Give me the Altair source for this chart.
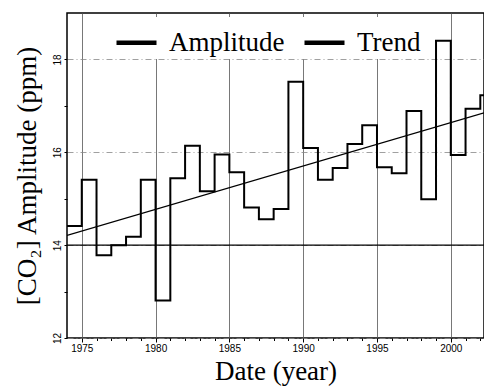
import altair as alt
import pandas as pd

years = list(range(1974, 2003))
amplitude = [14.41, 15.41, 13.78, 14.00, 14.18, 15.41, 12.81, 15.44, 16.14, 15.16,
             15.95, 15.57, 14.81, 14.56, 14.78, 17.52, 16.09, 15.41, 15.66, 16.18,
             16.58, 15.68, 15.55, 16.89, 14.99, 18.40, 15.94, 16.94, 17.23]
trend_years = [1974, 2002.25]
trend_values = [14.21, 16.85]
ref_level = [14]
x_ticks = list(range(1975, 2003))
y_ticks = [12, 13, 14, 15, 16, 17, 18]

amp_df = pd.DataFrame({"year": years + [years[-1] + 1],
                       "value": amplitude + [amplitude[-1]],
                       "series": "Amplitude"})
trend_df = pd.DataFrame({"year": trend_years, "value": trend_values, "series": "Trend"})
ref_df = pd.DataFrame({"value": ref_level})

xscale = alt.Scale(domain=[1974, 2002.25], nice=False, zero=False)
yscale = alt.Scale(domain=[12, 19], nice=False, zero=False)

color = alt.Color("series:N",
                  scale=alt.Scale(domain=["Amplitude", "Trend"], range=["black", "black"]),
                  legend=alt.Legend(title=None, orient="none", legendX=44, legendY=4,
                                    direction="horizontal", symbolType="stroke",
                                    symbolSize=1600, symbolStrokeWidth=4.5,
                                    labelFont="Liberation Serif", labelFontSize=27,
                                    labelColor="black", labelOffset=10, columnPadding=10,
                                    fillColor="white", padding=3))

xmajor = "datum.value % 5 === 0"
ymajor = "datum.value % 2 === 0"

xaxis = alt.Axis(values=x_ticks, tickCount=60, format="d", title="Date (year)", grid=True,
                 labelExpr=f"{xmajor} ? datum.label : ''", labelOverlap=False,
                 labelFlush=False,
                 gridOpacity={"condition": {"test": xmajor, "value": 1}, "value": 0},
                 gridColor="#555", gridWidth=0.8, domain=False,
                 tickSize={"condition": {"test": xmajor, "value": 4}, "value": 2.5},
                 tickColor="black", labelFont="Liberation Sans", labelFontSize=10,
                 labelColor="black", titleFont="Liberation Serif", titleFontSize=27,
                 titleFontWeight="normal", titleColor="black", titlePadding=5,
                 labelPadding=1)
yaxis = alt.Axis(values=y_ticks, tickCount=20, format="d", title="[CO₂] Amplitude (ppm)",
                 grid=True,
                 labelExpr=f"{ymajor} ? datum.label : ''", labelOverlap=False,
                 labelFlush=False,
                 gridOpacity={"condition": {"test": ymajor, "value": 1}, "value": 0},
                 gridColor="#888", gridWidth=0.8, gridDash=[6, 3, 1, 3], domain=False,
                 tickSize=3, tickColor="black", labelAngle=270, labelAlign="center",
                 labelBaseline="bottom", labelFont="Liberation Sans", labelFontSize=10,
                 labelColor="black", titleFont="Liberation Serif", titleFontSize=27,
                 titleFontWeight="normal", titleColor="black", titlePadding=11,
                 labelPadding=2)

amp = alt.Chart(amp_df).mark_line(interpolate="step-after", strokeWidth=2, clip=True).encode(
    x=alt.X("year:Q", scale=xscale, axis=xaxis),
    y=alt.Y("value:Q", scale=yscale, axis=yaxis),
    color=color,
)
trend = alt.Chart(trend_df).mark_line(strokeWidth=1.3, clip=True).encode(
    x=alt.X("year:Q", scale=xscale),
    y=alt.Y("value:Q", scale=yscale),
    color=color,
)
rule = alt.Chart(ref_df).mark_rule(color="black", strokeWidth=1.3).encode(
    y=alt.Y("value:Q", scale=yscale),
)

chart = alt.layer(rule, amp, trend).properties(
    width=417, height=325,
    autosize=alt.AutoSizeParams(type="none"),
    padding={"left": 67, "top": 13, "right": 0, "bottom": 51},
    background="white",
).configure_view(stroke="black", strokeWidth=1.5)

chart.save("out.html", embed_options={"renderer": "svg", "actions": False})
